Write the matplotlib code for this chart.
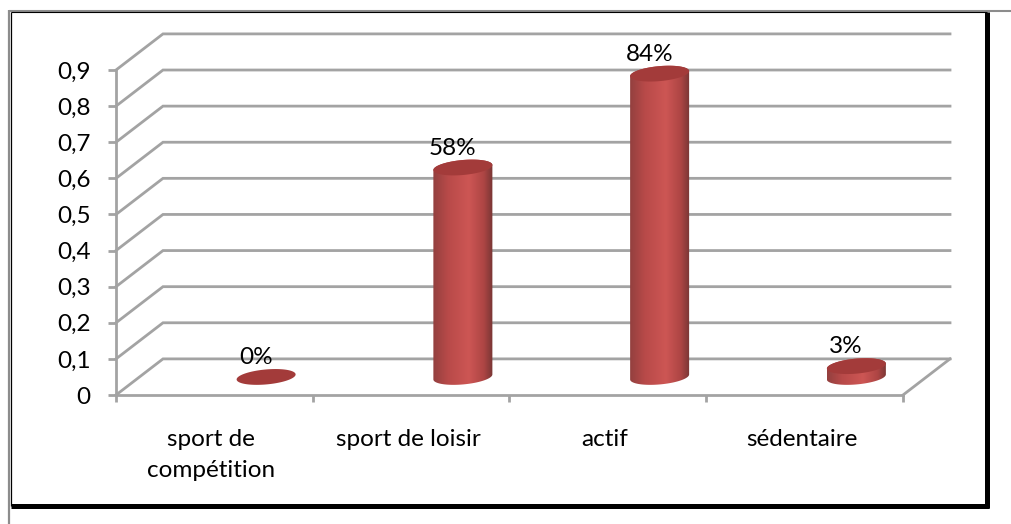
import matplotlib
matplotlib.use('Agg')
import matplotlib.pyplot as plt
import numpy as np
from matplotlib.colors import LinearSegmentedColormap
from matplotlib.lines import Line2D
from matplotlib.patches import PathPatch
from matplotlib.path import Path

categories = ['sport de\ncompétition', 'sport de loisir', 'actif', 'sédentaire']
values = [0.0, 0.58, 0.84, 0.03]
y_ticks = [0, 0.1, 0.2, 0.3, 0.4, 0.5, 0.6, 0.7, 0.8, 0.9]
y_labels = ['0', '0,1', '0,2', '0,3', '0,4', '0,5', '0,6', '0,7', '0,8', '0,9']

W, H = 1012, 524
X0_PX, CAT_PX = 116, 196.75  # front axis origin and category width, in pixels
Y0_PX, UNIT_PX = 395, 361.1  # baseline and height of 1.0, in pixels

DEPTH_X, DEPTH_Y = 47 / CAT_PX, 0.1  # shift from front plane to back wall
BAR_X = 0.763  # bar centre inside its category
BAR_BASE = 0.05  # floor level under the bars
RX, RY, TILT = 29.5 / CAT_PX, 7.5 / UNIT_PX, 2.5 / UNIT_PX

GRID = '#a3a3a3'
GRID_LW = 2.0
plt.rcParams['font.family'] = ['Lato', 'DejaVu Sans']
plt.rcParams['font.size'] = 17.5

fig = plt.figure(figsize=(W / 100, H / 100), dpi=100)
ax = fig.add_axes([0, 0, 1, 1])
xlim = (-X0_PX / CAT_PX, (W - X0_PX) / CAT_PX)
ylim = ((Y0_PX - H) / UNIT_PX, Y0_PX / UNIT_PX)


def ellipse_xy(cx, cy, t):
    # ellipse slightly sheared so that the right side sits higher
    x = cx + RX * np.cos(t)
    y = cy + RY * np.sin(t) + TILT * np.cos(t)
    return x, y


# back wall grid lines with their diagonal on the left, plus the floor edge
for v in y_ticks:
    ax.plot([0, DEPTH_X, 4 + DEPTH_X], [v, v + DEPTH_Y, v + DEPTH_Y],
            color=GRID, lw=GRID_LW, solid_joinstyle='miter', zorder=1)
ax.plot([4, 4 + DEPTH_X], [0, DEPTH_Y], color=GRID, lw=GRID_LW, zorder=1)

# shading around the cylinder, dark on the edges and light right of centre
shade = LinearSegmentedColormap.from_list('cyl', [
    (0.0, '#93403f'), (0.25, '#b84a49'), (0.6, '#cd5654'),
    (0.85, '#ad4544'), (1.0, '#773634')])
gradient = np.linspace(0, 1, 256).reshape(1, -1)

for i, v in enumerate(values):
    cx = i + BAR_X
    top = BAR_BASE + v
    if v > 0:
        t_low = np.linspace(np.pi, 2 * np.pi, 60)
        t_up = np.linspace(2 * np.pi, 3 * np.pi, 60)
        xb, yb = ellipse_xy(cx, BAR_BASE, t_low)
        xt, yt = ellipse_xy(cx, top, t_up)
        verts = np.column_stack([np.r_[xb, xt], np.r_[yb, yt]])
        body = PathPatch(Path(np.vstack([verts, verts[:1]])), fc='none', ec='none',
                         transform=ax.transData, zorder=3)
        ax.add_patch(body)
        im = ax.imshow(gradient, cmap=shade, aspect='auto', zorder=3,
                       extent=(cx - RX, cx + RX, BAR_BASE - 2 * RY, top + 2 * RY))
        im.set_clip_path(body)
    xe, ye = ellipse_xy(cx, top, np.linspace(0, 2 * np.pi, 120))
    ax.fill(xe, ye, color='#a33b3a', lw=0, zorder=4)
    ax.annotate(f'{round(v * 100)}%', xy=(cx, top), xytext=(-7.5, 14),
                textcoords='offset points', ha='center', va='center',
                color='black', zorder=5)

ax.set_xlim(xlim)
ax.set_ylim(ylim)
ax.patch.set_visible(False)

# axes: spines pinned on the front plane
for side in ('top', 'right'):
    ax.spines[side].set_visible(False)
ax.spines['left'].set_position(('data', 0))
ax.spines['left'].set_bounds(0, 0.9)
ax.spines['bottom'].set_position(('data', 0))
ax.spines['bottom'].set_bounds(0, 4)
for side in ('left', 'bottom'):
    ax.spines[side].set_color(GRID)
    ax.spines[side].set_linewidth(GRID_LW)

ax.set_yticks(y_ticks, y_labels)
ax.tick_params(axis='y', length=5.8, width=GRID_LW, color=GRID, pad=12.5)
ax.set_xticks(range(5), [''] * 5)
ax.tick_params(axis='x', length=5, width=GRID_LW, color=GRID)
ax.set_xticks([i + 0.485 for i in range(4)], categories, minor=True)
ax.tick_params(axis='x', which='minor', length=0, pad=24.5)
for lab in ax.get_xticklabels(minor=True):
    lab.set_linespacing(1.56)


def frame_line(x, y, color, lw, cap='butt'):
    fig.add_artist(Line2D(np.array(x) / W, 1 - np.array(y) / H, color=color, lw=lw,
                          solid_capstyle=cap, zorder=10))


# page frame: thin grey outer line, black inner line, heavy right and bottom
frame_line([8.5, W], [10.5, 10.5], '#8c8c8c', 1.5)
frame_line([8.5, 8.5], [10, H], '#8c8c8c', 1.6)
frame_line([11, 987], [12.3, 12.3], 'black', 0.8)
frame_line([10.8, 10.8], [12, 506], 'black', 0.9)
frame_line([11, 989], [505.5, 505.5], 'black', 3.6)
frame_line([987, 987], [12, 508], 'black', 3.6)

fig.savefig('out.png', dpi=100)
